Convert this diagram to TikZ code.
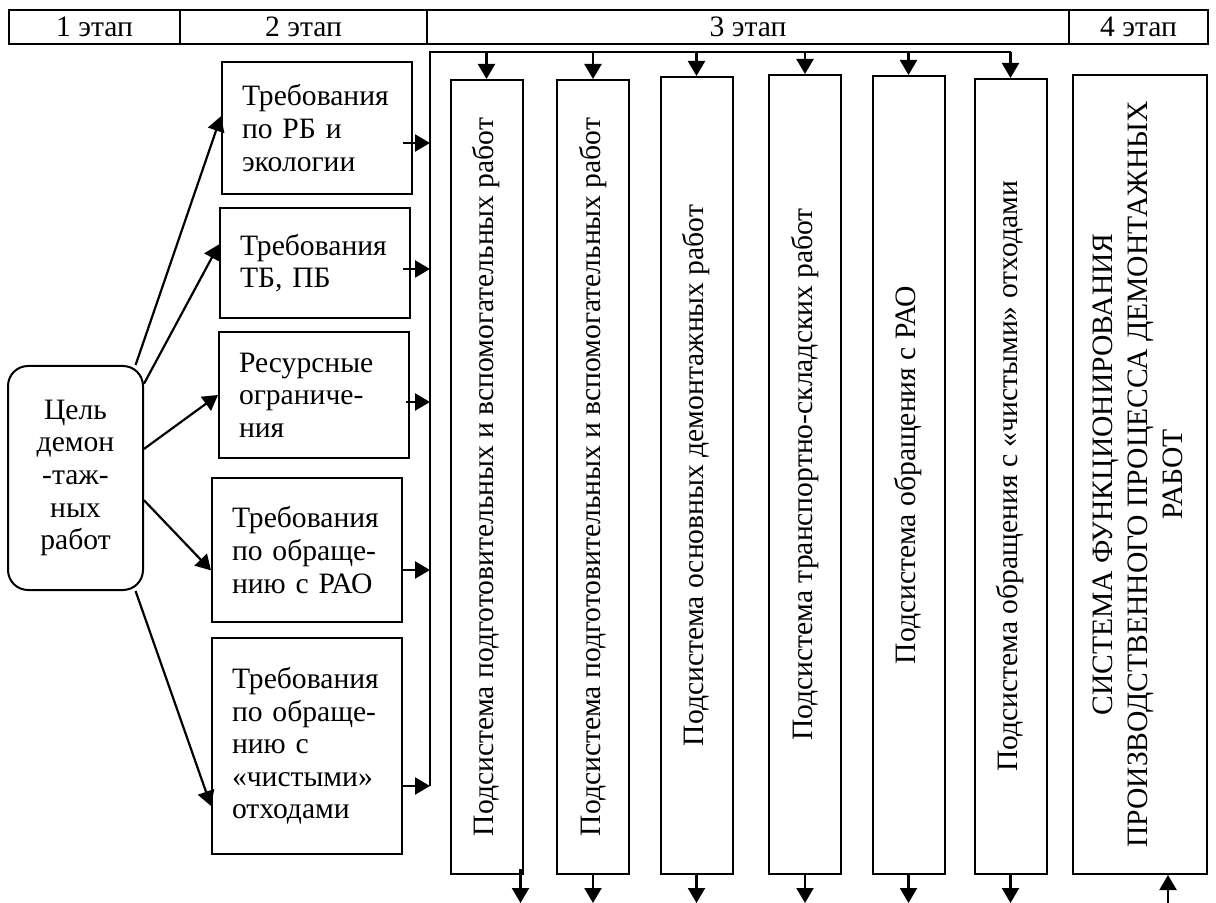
\documentclass[tikz,border=0pt]{standalone}
\usepackage{fontspec}
\setmainfont{Liberation Serif}
\usetikzlibrary{arrows.meta,positioning}

\begin{document}
\begin{tikzpicture}[
    x=0.5pt, y=-0.5pt,
    every node/.style={font=\fontsize{14.8}{16.3}\selectfont},
    stage/.style={rectangle, draw, line width=1.2pt, minimum height=17pt, inner sep=0pt},
    req/.style={rectangle, draw, line width=1pt, minimum width=95pt, inner sep=0pt, text width=75pt, align=left},
    sub/.style={rectangle, draw, line width=1pt, minimum width=36pt, inner sep=0pt},
    arr/.style={-{Triangle[length=7.5pt, width=8.5pt]}, line width=1.1pt},
]
\useasboundingbox (0,0) rectangle (1216,903);

% stages
\node[stage, minimum width=85.5pt] (st1) at (94.5,27) {1 этап};
\node[stage, minimum width=123.5pt] (st2) at (303.5,27) {2 этап};
\node[stage, minimum width=321pt] (st3) at (748,27) {3 этап};
\node[stage, minimum width=69.5pt] (st4) at (1138.5,27) {4 этап};

% goal
\node[draw, rounded corners=10pt, line width=1pt, minimum width=67.5pt, minimum height=112pt, inner sep=0pt, align=center] (goal) at (75.5,478) {Цель\\демон\\-таж-\\ных\\работ};

% requirements
\node[req, minimum height=66pt] (reqRB) at (317,128) {Требования\\по РБ и\\экологии};
\node[req, minimum height=55pt] (reqTB) at (315,263) {Требования\\ТБ, ПБ};
\node[req, minimum height=63pt] (reqRes) at (314,395) {Ресурсные\\ограниче-\\ния};
\node[req, minimum height=72pt] (reqRAO) at (307,550) {Требования\\по обраще-\\нию с РАО};
\node[req, minimum height=108pt] (reqWaste) at (307,746) {Требования\\по обраще-\\нию с\\«чистыми»\\отходами};

% subsystems
\node[sub, minimum height=397pt] (sub1) at (486.5,477) {\rotatebox{90}{Подсистема подготовительных и вспомогательных работ}};
\node[sub, minimum height=397pt] (sub2) at (593,477) {\rotatebox{90}{Подсистема подготовительных и вспомогательных работ}};
\node[sub, minimum height=398.5pt] (sub3) at (696.5,475.5) {\rotatebox{90}{Подсистема основных демонтажных работ}};
\node[sub, minimum height=399.5pt] (sub4) at (805,474.5) {\rotatebox{90}{Подсистема транспортно-складских работ}};
\node[sub, minimum height=399pt] (sub5) at (908.5,475) {\rotatebox{90}{Подсистема обращения с РАО}};
\node[sub, minimum height=397.5pt] (sub6) at (1010.5,476.5) {\rotatebox{90}{Подсистема обращения с «чистыми» отходами}};
\node[sub, minimum width=67pt, minimum height=399.5pt] (sys) at (1140,474.5) {\rotatebox{90}{\fontsize{14.8}{17.5}\selectfont\begin{tabular}{@{}c@{}}СИСТЕМА ФУНКЦИОНИРОВАНИЯ\\ПРОИЗВОДСТВЕННОГО ПРОЦЕССА ДЕМОНТАЖНЫХ\\РАБОТ\end{tabular}}};

% bus
\coordinate (bustop) at (430,52);
\coordinate (busbot) at (430,786);
\coordinate (low) at (0,903);
\draw[line width=1.1pt] (busbot) -- (bustop) -- (bustop -| sub6.north);

\draw[arr] (goal.62) -- (reqRB.173);
\draw[arr] (goal.54) -- (reqTB.169);
\draw[arr] (goal.23) -- (reqRes.west);
\draw[arr] (goal.-18) -- (reqRAO.192);
\draw[arr] (goal.-62) -- (reqWaste.212);

\path ([xshift=-5pt,yshift=-7.5pt]reqRB.east) coordinate (rb);
\path ([xshift=-4pt,yshift=-3pt]reqTB.east) coordinate (tb);
\path ([xshift=-2pt,yshift=-3.5pt]reqRes.east) coordinate (res);
\path ([yshift=-10pt]reqRAO.east) coordinate (rao);
\path ([yshift=-20pt]reqWaste.east) coordinate (waste);
\draw[arr] (rb) -- (rb -| bustop);
\draw[arr] (tb) -- (tb -| bustop);
\draw[arr] (res) -- (res -| bustop);
\draw[arr] (rao) -- (rao -| bustop);
\draw[arr] (waste) -- (waste -| bustop);

\draw[arr] (bustop -| sub1.north) -- (sub1.north);
\draw[arr] (bustop -| sub2.north) -- (sub2.north);
\draw[arr] (bustop -| sub3.north) -- (sub3.north);
\draw[arr] (bustop -| sub4.north) -- (sub4.north);
\draw[arr] (bustop -| sub5.north) -- (sub5.north);
\draw[arr] (bustop -| sub6.north) -- (sub6.north);

\path ([shift={(-1.5pt,3pt)}]sub1.south east) coordinate (s1out);
\draw[arr] (s1out) -- (s1out |- low);
\draw[arr] (sub2.south) -- (sub2.south |- low);
\draw[arr] (sub3.south) -- (sub3.south |- low);
\draw[arr] (sub4.south) -- (sub4.south |- low);
\draw[arr] (sub5.south) -- (sub5.south |- low);
\draw[arr] (sub6.south) -- (sub6.south |- low);

\path ([xshift=14pt]sys.south) coordinate (sysin);
\draw[arr] (sysin |- low) -- (sysin);
\end{tikzpicture}
\end{document}
